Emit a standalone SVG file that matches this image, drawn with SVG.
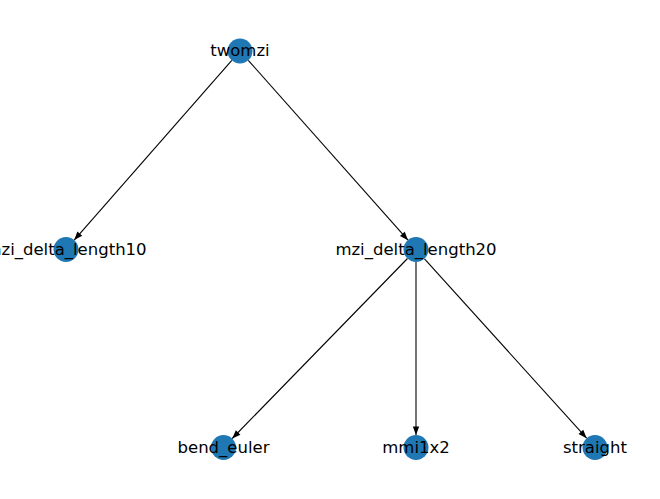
<svg xmlns="http://www.w3.org/2000/svg" width="660" height="499" viewBox="0 0 660 499">
<style>
.node circle{fill:#1f77b4}
.node text{font-family:"DejaVu Sans",sans-serif;font-size:16.5px;fill:#000;text-anchor:middle}
.edges line{stroke:#000;stroke-width:1.1;marker-end:url(#arr)}
</style>
<defs>
<marker id="arr" markerUnits="userSpaceOnUse" viewBox="-9 -4 10 8" refX="0" refY="0" markerWidth="10" markerHeight="8" orient="auto">
<path d="M0,0 L-8.5,-3.2 L-8.5,3.2 Z" fill="#000"/>
</marker>
</defs>
<rect width="660" height="499" fill="#fff"/>
<g id="edges" class="edges">
<line x1="231.8" y1="60.4" x2="74.2" y2="240.1"/>
<line x1="248.3" y1="60.3" x2="408" y2="240.2"/>
<line x1="407.5" y1="258.5" x2="232.2" y2="438.5"/>
<line x1="416" y1="262" x2="416" y2="435"/>
<line x1="424.5" y1="258.8" x2="586.6" y2="438.2"/>
</g>
<g id="twomzi" class="node"><circle cx="240" cy="51" r="12.5"/><text x="240" y="56">twomzi</text></g>
<g id="mzi_delta_length10" class="node"><circle cx="66" cy="249.5" r="12.5"/><text x="66" y="254.5">mzi_delta_length10</text></g>
<g id="mzi_delta_length20" class="node"><circle cx="416" cy="249.5" r="12.5"/><text x="416" y="254.5">mzi_delta_length20</text></g>
<g id="bend_euler" class="node"><circle cx="223.5" cy="447.5" r="12.5"/><text x="223.5" y="452.5">bend_euler</text></g>
<g id="mmi1x2" class="node"><circle cx="416" cy="447.5" r="12.5"/><text x="416" y="452.5">mmi1x2</text></g>
<g id="straight" class="node"><circle cx="595" cy="447.5" r="12.5"/><text x="595" y="452.5">straight</text></g>
</svg>
